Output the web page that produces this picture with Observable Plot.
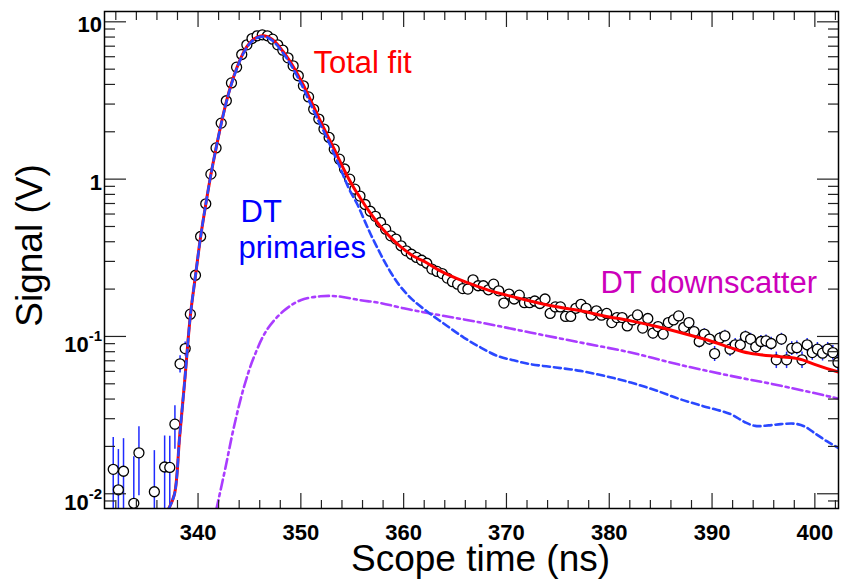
<!DOCTYPE html>
<html><head><meta charset="utf-8">
<script src="https://cdn.jsdelivr.net/npm/d3@7"></script>
<script src="https://cdn.jsdelivr.net/npm/@observablehq/plot@0.6"></script>
<style>html,body{margin:0;padding:0;background:#fff;}</style>
</head><body><div id="chart"></div>
<script>
// Measured signal: [scope time (ns), signal (V)]
const signalPoints = [
[331.75,0.0143],[332.25,0.0106],[332.75,0.0139],[333.75,0.0087],[334.25,0.0182],[335.75,0.0103],
[336.75,0.0148],[337.25,0.0147],[337.75,0.0277],[338.25,0.067],[338.75,0.0837],[339.25,0.1386],
[339.75,0.245],[340.25,0.432],[340.75,0.697],[341.25,1.076],[341.75,1.58],[342.25,2.27],
[342.75,3.15],[343.25,4.09],[343.75,5.15],[344.25,6.2],[344.75,7.14],[345.25,7.83],
[345.75,8.15],[346.25,8.27],[346.75,8.15],[347.25,7.76],[347.75,7.14],[348.25,6.6],
[348.75,5.9],[349.25,5.25],[349.75,4.54],[350.25,3.92],[350.75,3.33],[351.25,2.78],
[351.75,2.41],[352.25,2.08],[352.75,1.84],[353.25,1.55],[353.75,1.34],[354.25,1.16],
[354.75,1.0],[355.25,0.863],[355.75,0.78],[356.25,0.69],[356.75,0.625],[357.25,0.58],
[357.75,0.53],[358.25,0.481],[358.75,0.436],[359.25,0.416],[359.75,0.377],[360.25,0.35],
[360.75,0.333],[361.25,0.318],[361.75,0.305],[362.25,0.292],[362.75,0.268],[363.25,0.259],
[363.75,0.251],[364.25,0.235],[364.75,0.223],[365.25,0.215],[365.75,0.2015],[366.25,0.2],
[366.75,0.229],[367.25,0.21],[367.75,0.21],[368.25,0.198],[368.75,0.215],[369.25,0.195],
[369.75,0.163],[370.25,0.186],[370.75,0.173],[371.25,0.183],[371.75,0.164],[372.25,0.164],
[372.75,0.168],[373.25,0.162],[373.75,0.173],[374.25,0.14],[374.75,0.154],[375.25,0.154],
[375.75,0.134],[376.25,0.134],[376.75,0.151],[377.25,0.16],[377.75,0.151],[378.25,0.1365],
[378.75,0.1455],[379.25,0.1365],[379.75,0.14],[380.25,0.1225],[380.75,0.1318],[381.25,0.1318],
[381.75,0.1166],[382.25,0.1273],[382.75,0.137],[383.25,0.113],[383.75,0.13],[384.25,0.105],
[384.75,0.1155],[385.25,0.1035],[385.75,0.1225],[386.25,0.1273],[386.75,0.135],[387.25,0.114],
[387.75,0.1225],[388.25,0.1074],[388.75,0.0929],[389.25,0.1035],[389.75,0.0962],[390.25,0.0778],
[390.75,0.0975],[391.25,0.1009],[391.75,0.083],[392.25,0.0885],[392.75,0.0885],[393.25,0.0998],
[393.75,0.0962],[394.25,0.0859],[394.75,0.0929],[395.25,0.0937],[395.75,0.0902],[396.25,0.071],
[396.75,0.0962],[397.25,0.071],[397.75,0.0841],[398.25,0.0849],[398.75,0.071],[399.25,0.0885],
[399.75,0.079],[400.25,0.083],[400.75,0.0783],[401.25,0.083],[401.75,0.079],[402.25,0.0683]
];
const signalError = 0.0085; // half-length of the error bars (V)

const totalFit = [
[337.13,0.008],[337.7,0.0099],[338.2,0.0227],[338.7,0.052],[339.25,0.135],[339.75,0.243],
[340.25,0.43],[340.75,0.69],[341.25,1.07],[341.75,1.57],[342.25,2.25],[342.75,3.1],
[343.25,4.05],[343.75,5.05],[344.25,6.05],[344.75,6.95],[345.25,7.6],[345.75,8.0],
[346.25,8.15],[346.75,8.05],[347.25,7.7],[347.75,7.15],[348.25,6.5],[348.75,5.85],
[349.25,5.2],[349.75,4.55],[350.25,3.95],[350.75,3.38],[351.25,2.88],[351.75,2.45],
[352.25,2.1],[352.75,1.8],[353.25,1.55],[353.75,1.32],[354.25,1.13],[354.75,0.98],
[355.25,0.86],[355.75,0.765],[356.25,0.68],[356.75,0.61],[357.25,0.55],[357.75,0.5],
[358.25,0.46],[358.75,0.425],[359.25,0.395],[359.75,0.37],[360.35,0.345],[361.0,0.322],
[362.0,0.3],[363.25,0.268],[364.2,0.249],[366.0,0.222],[368.45,0.195],[370.0,0.183],
[372.3,0.168],[374.5,0.156],[377.2,0.1455],[379.5,0.135],[382.1,0.1256],[384.5,0.116],
[386.9,0.106],[389.3,0.096],[391.8,0.0849],[393.0,0.08],[394.4,0.077],[396.0,0.075],
[397.6,0.0734],[398.8,0.071],[399.9,0.0667],[401.2,0.0625],[402.5,0.0589]
];

const primaries = [
[337.13,0.008],[337.7,0.0099],[338.2,0.0227],[338.7,0.052],[339.25,0.135],[339.75,0.243],
[340.25,0.43],[340.75,0.69],[341.25,1.07],[341.75,1.57],[342.25,2.24],[342.75,3.08],
[343.25,4.02],[343.75,5.0],[344.25,6.0],[344.75,6.88],[345.25,7.52],[345.75,7.92],
[346.25,8.05],[346.75,7.95],[347.25,7.58],[347.75,7.02],[348.25,6.36],[348.75,5.7],
[349.25,5.03],[349.75,4.38],[350.25,3.77],[350.75,3.2],[351.25,2.72],[351.75,2.32],
[352.25,2.0],[352.75,1.7],[353.25,1.44],[353.75,1.21],[354.25,1.01],[354.75,0.85],
[355.5,0.69],[356.25,0.535],[356.8,0.445],[357.5,0.36],[358.1,0.302],[358.75,0.255],
[359.5,0.215],[360.25,0.188],[361.0,0.168],[362.6,0.139],[364.2,0.117],[365.85,0.0984],
[367.5,0.085],[369.1,0.0753],[370.7,0.0705],[372.3,0.0667],[374.8,0.0635],[377.2,0.0604],
[379.6,0.056],[382.1,0.0509],[384.5,0.0455],[386.9,0.0399],[389.3,0.0358],[391.8,0.0321],
[393.2,0.0285],[394.2,0.027],[395.5,0.0272],[396.7,0.0277],[398.0,0.0279],[399.0,0.0268],
[399.9,0.0245],[401.2,0.0215],[402.5,0.0192]
];

const downscatter = [
[341.77,0.0079],[342.67,0.0147],[343.48,0.0264],[344.45,0.0473],[345.42,0.0735],[346.73,0.111],
[348.34,0.1455],[349.97,0.17],[351.91,0.18],[353.54,0.18],[355.8,0.17],[357.75,0.163],
[360.0,0.151],[362.6,0.14],[367.5,0.1226],[372.3,0.106],[377.2,0.0915],[382.1,0.079],
[386.9,0.066],[391.8,0.0562],[396.7,0.0486],[402.5,0.04]
];

const xMajorTicks = [340,350,360,370,380,390,400];
const xMinorTicks = [332,334,336,338,342,344,346,348,352,354,356,358,362,364,366,368,372,374,376,378,382,384,386,388,392,394,396,398,402];
const yMajorTicks = [0.01,0.1,1,10];
const yTickLabels = ["10^-2","10^-1","1","10"];
const yMinorTicks = [0.009,0.02,0.03,0.04,0.05,0.06,0.07,0.08,0.09,0.2,0.3,0.4,0.5,0.6,0.7,0.8,0.9,2,3,4,5,6,7,8,9];

const annotations = [
  {label: "Total fit", t: 351.23, v: 5.5, color: "#ff0000"},
  {label: "DT", t: 344.13, v: 0.62, color: "#0000ff"},
  {label: "primaries", t: 343.93, v: 0.366, color: "#0000ff"},
  {label: "DT downscatter", t: 379.15, v: 0.22, color: "#cc00bb"}
];

const FONT = "'Liberation Sans', Arial, Helvetica, sans-serif";
const pts = signalPoints.map(([t, v]) => ({t, v}));
const toObj = arr => arr.map(([t, v]) => ({t, v}));

const tickStyle = {stroke: "#222", strokeWidth: 1.2, fill: null, label: null};

const chart = Plot.plot({
  width: 846, height: 584,
  marginLeft: 104, marginRight: 8, marginTop: 11, marginBottom: 76,
  x: {type: "linear", domain: [330.9, 402.3]},
  y: {type: "log", domain: [0.00806, 11.63]},
  style: {fontFamily: FONT, background: "white", color: "black"},
  marks: [
    Plot.ruleX(pts, {x: "t", y1: d => Math.max(d.v - signalError, 1e-4), y2: d => d.v + signalError,
      stroke: "#1f2bff", strokeWidth: 1.5, clip: true}),
    Plot.dot(pts, {x: "t", y: "v", r: 5, stroke: "black", fill: "white", strokeWidth: 1.3, clip: true}),
    Plot.line(toObj(downscatter), {x: "t", y: "v", stroke: "#aa3cff", strokeWidth: 2.6,
      strokeDasharray: "10,4,3,4", curve: "catmull-rom", clip: true}),
    Plot.line(toObj(totalFit), {x: "t", y: "v", stroke: "#ff0000", strokeWidth: 3,
      curve: "catmull-rom", clip: true}),
    Plot.line(toObj(primaries), {x: "t", y: "v", stroke: "#2a48ff", strokeWidth: 2.6,
      strokeDasharray: "7,4", curve: "catmull-rom", clip: true}),
    // inward ticks on all four sides
    Plot.axisX(xMajorTicks, {anchor: "bottom", tickSize: -15, ...tickStyle}),
    Plot.axisX(xMinorTicks, {anchor: "bottom", tickSize: -8, ...tickStyle}),
    Plot.axisX(xMajorTicks, {anchor: "top", tickSize: -15, ...tickStyle}),
    Plot.axisX(xMinorTicks, {anchor: "top", tickSize: -8, ...tickStyle}),
    Plot.axisY(yMajorTicks, {anchor: "left", tickSize: -22, ...tickStyle}),
    Plot.axisY(yMinorTicks, {anchor: "left", tickSize: -11, ...tickStyle}),
    Plot.axisY(yMajorTicks, {anchor: "right", tickSize: -22, ...tickStyle}),
    Plot.axisY(yMinorTicks, {anchor: "right", tickSize: -11, ...tickStyle}),
    // tick labels
    Plot.axisX(xMajorTicks, {anchor: "bottom", tickSize: 0, tickPadding: 16, label: null,
      fontSize: 22, fontWeight: "bold", fill: "black", tickFormat: d => String(d)}),
    Plot.axisY(yMajorTicks, {anchor: "left", tickSize: 0, tickPadding: 2.5, label: null, dy: 3.5,
      fontSize: 22, fontWeight: "bold", fill: "black",
      tickFormat: d => yTickLabels[yMajorTicks.indexOf(d)]}),
    Plot.frame({stroke: "black", strokeWidth: 1.5}),
    // axis titles
    Plot.text(["Scope time (ns)"], {frameAnchor: "bottom", text: d => d, dx: 9, dy: 51,
      textAnchor: "middle", lineAnchor: "middle", fontSize: 37, fill: "black"}),
    Plot.text(["Signal (V)"], {frameAnchor: "left", text: d => d, rotate: -90, dx: -74, dy: -14.5,
      textAnchor: "middle", lineAnchor: "middle", fontSize: 37, fill: "black"}),
    // annotations
    ...annotations.map(a => Plot.text([a], {x: "t", y: "v", text: "label", fill: a.color,
      textAnchor: "start", lineAnchor: "middle", fontSize: 31}))
  ]
});

// superscript exponents for 10^-n labels
const NS = "http://www.w3.org/2000/svg";
chart.querySelectorAll("text").forEach(el => {
  const s = el.textContent;
  if (s.includes("^")) {
    const [base, sup] = s.split("^");
    el.textContent = "";
    const t1 = document.createElementNS(NS, "tspan");
    t1.setAttribute("dy", "5.5");
    t1.textContent = base;
    const t2 = document.createElementNS(NS, "tspan");
    t2.setAttribute("dy", "-11");
    t2.setAttribute("font-size", "15");
    t2.textContent = sup;
    el.append(t1, t2);
  }
});

document.getElementById("chart").append(chart);
</script>
</body></html>
